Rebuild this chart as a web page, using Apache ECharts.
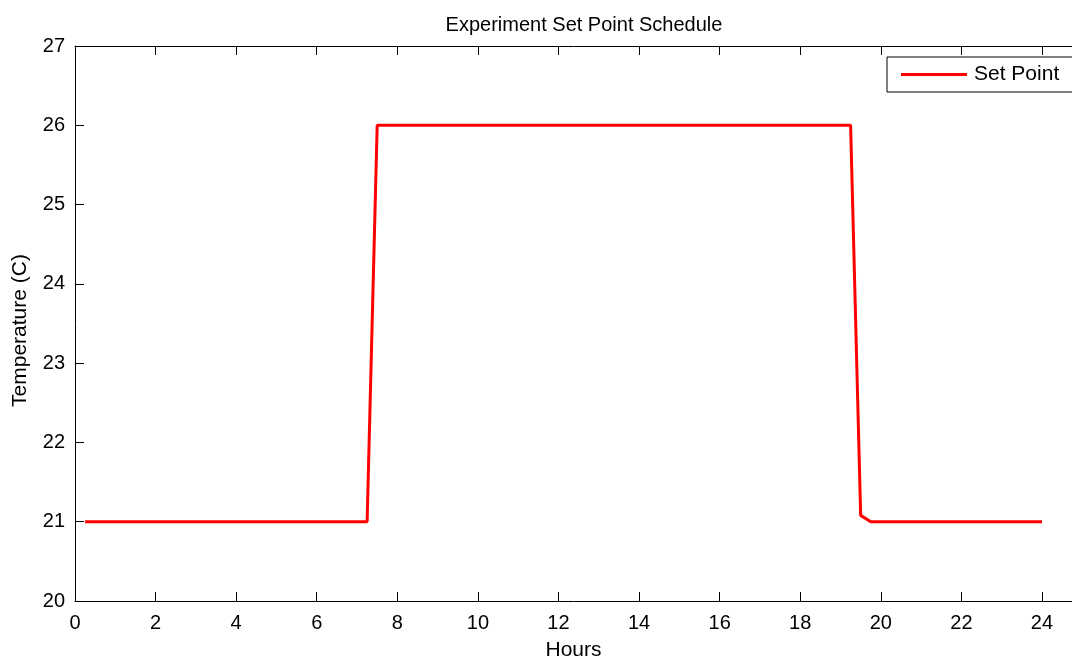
<!DOCTYPE html>
<html>
<head>
<meta charset="utf-8">
<script src="https://cdn.jsdelivr.net/npm/echarts@6/dist/echarts.min.js"></script>
<style>
html,body{margin:0;padding:0;background:#fff;}
#chart{width:1072px;height:662px;}
</style>
</head>
<body>
<div id="chart"></div>
<script>
// Data
var hours = [0.25, 7.25, 7.5, 19.25, 19.5, 19.75, 24];
var setPoint = [21, 21, 26, 26, 21.08, 21, 21];
var xTicks = [0, 2, 4, 6, 8, 10, 12, 14, 16, 18, 20, 22, 24];
var xVisibleMax = 24.745; // the reference plot is cropped at the right edge
var yTicks = [20, 21, 22, 23, 24, 25, 26, 27];
var seriesName = 'Set Point';
var titleText = 'Experiment Set Point Schedule';
var xName = 'Hours';
var yName = 'Temperature (C)';

var font = 'Liberation Sans, Arial, sans-serif';
var chart = echarts.init(document.getElementById('chart'), null, {renderer: 'canvas'});

var axisLine = {show: true, lineStyle: {color: '#000', width: 1}};
var axisTick = {show: true, inside: true, length: 9, lineStyle: {color: '#000', width: 1}};

chart.setOption({
  animation: false,
  backgroundColor: '#fff',
  title: {
    text: titleText,
    left: 579, top: 10,
    textAlign: 'center',
    textStyle: {fontFamily: font, fontSize: 20, fontWeight: 'normal', color: '#000'}
  },
  legend: {
    data: [seriesName],
    left: 887, top: 57,
    orient: 'horizontal',
    icon: 'rect',
    itemWidth: 66, itemHeight: 3,
    itemGap: 8,
    padding: [7, 20, 7, 14],
    borderColor: '#000', borderWidth: 1,
    backgroundColor: '#fff',
    textStyle: {fontFamily: font, fontSize: 21, color: '#000', padding: [0, 0, 0, 2]}
  },
  grid: {left: 75, right: 0, top: 46, bottom: 61, containLabel: false, outerBoundsMode: 'none'},
  xAxis: [{
    type: 'value', min: xTicks[0], max: xVisibleMax, interval: 2,
    name: xName, nameLocation: 'middle', nameGap: 39,
    nameTextStyle: {fontFamily: font, fontSize: 21, color: '#000'},
    axisLine: axisLine, axisTick: axisTick,
    axisLabel: {fontFamily: font, fontSize: 20, color: '#000', margin: 12, showMaxLabel: false},
    splitLine: {show: false}
  }, {
    type: 'value', position: 'top', min: xTicks[0], max: xVisibleMax, interval: 2,
    axisLine: axisLine, axisTick: axisTick, axisLabel: {show: false}, splitLine: {show: false}
  }],
  yAxis: [{
    type: 'value', min: yTicks[0], max: yTicks[yTicks.length - 1], interval: 1,
    name: yName, nameLocation: 'middle', nameGap: 44, nameRotate: 90,
    nameTextStyle: {fontFamily: font, fontSize: 21, color: '#000', padding: [0, 14, 0, 0]},
    axisLine: axisLine, axisTick: axisTick,
    axisLabel: {fontFamily: font, fontSize: 20, color: '#000', margin: 10},
    splitLine: {show: false}
  }],
  series: [{
    name: seriesName,
    type: 'line',
    data: hours.map(function (h, i) { return [h, setPoint[i]]; }),
    showSymbol: false, symbol: 'none',
    lineStyle: {color: '#ff0000', width: 3},
    itemStyle: {color: '#ff0000'}
  }]
});
</script>
</body>
</html>
